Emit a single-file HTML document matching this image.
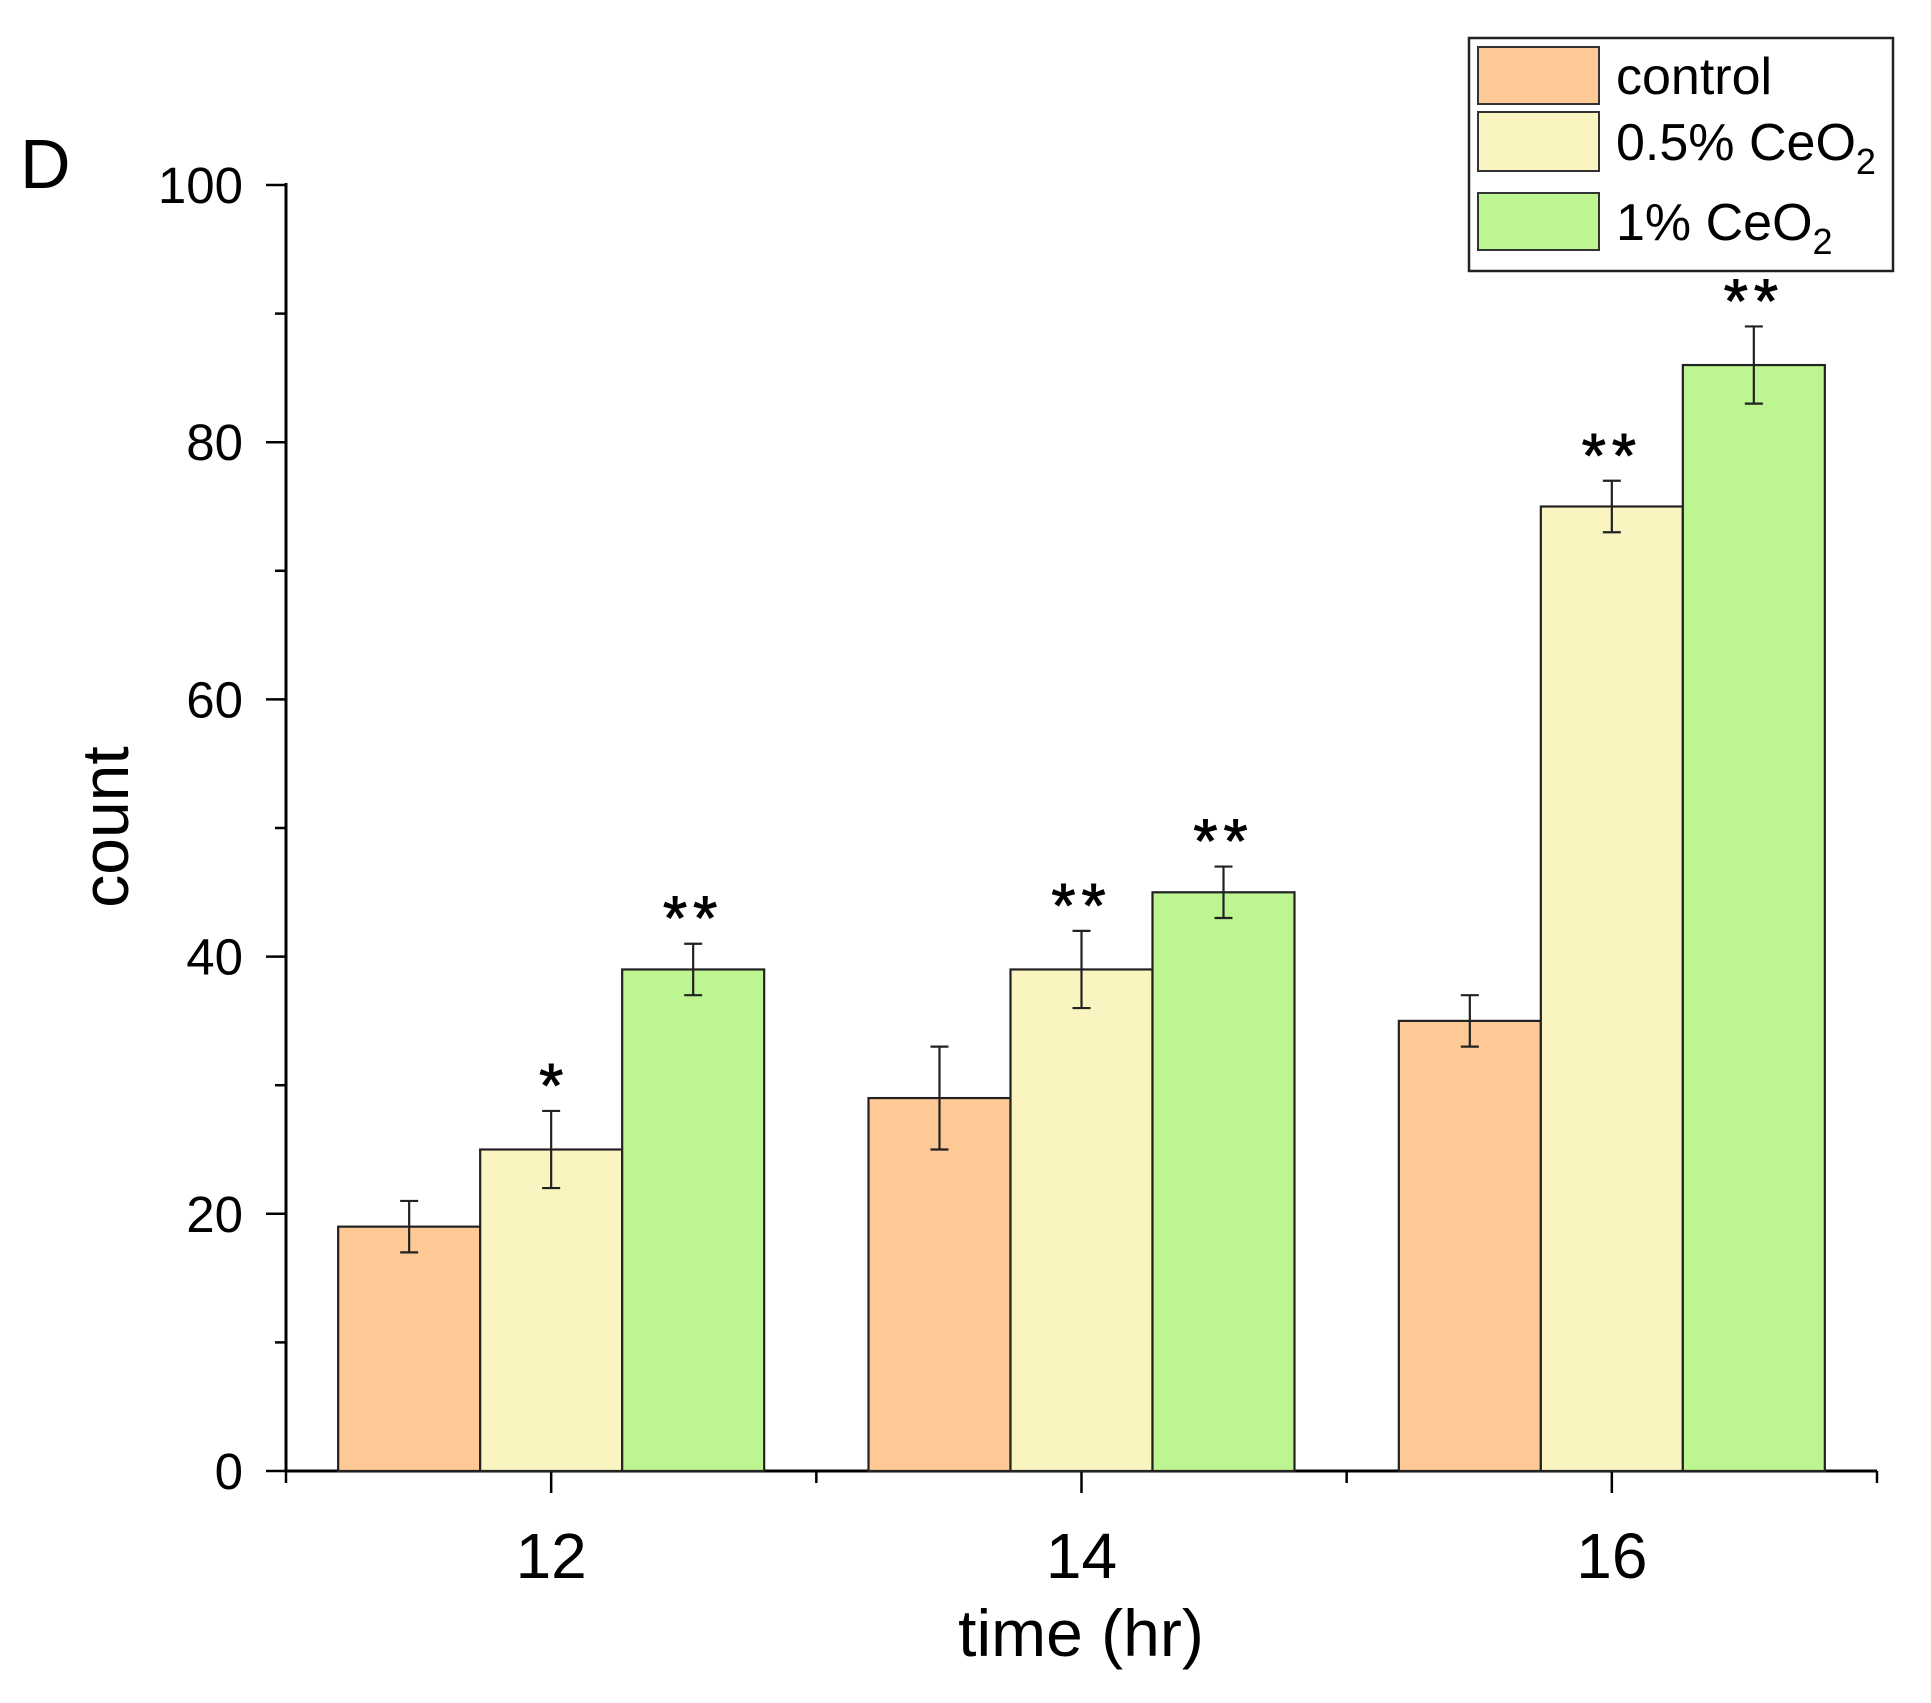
<!DOCTYPE html>
<html><head><meta charset="utf-8"><style>
html,body{margin:0;padding:0;background:#fff;}
svg{display:block;font-family:"Liberation Sans",Arial,sans-serif;}
</style></head><body>
<svg id="chart" width="1931" height="1703" viewBox="0 0 1931 1703" xmlns="http://www.w3.org/2000/svg">
<text x="20" y="188" font-size="70">D</text>
<g id="axes"></g>
<g id="bars"></g>
<text x="1081" y="1656" font-size="66" text-anchor="middle">time (hr)</text>
<text transform="translate(128,827) rotate(-90)" font-size="66" text-anchor="middle">count</text>
<g>
<rect x="1469" y="38" width="424" height="233" fill="#fff" stroke="#222" stroke-width="2.5"/>
<rect x="1478" y="47" width="121" height="57" fill="#fec994" stroke="#333" stroke-width="2"/>
<text x="1616" y="94" font-size="52">control</text>
<rect x="1478" y="112" width="121" height="59" fill="#faf5c0" stroke="#333" stroke-width="2"/>
<text x="1616" y="160" font-size="52">0.5% CeO<tspan font-size="36" dy="14">2</tspan></text>
<rect x="1478" y="193" width="121" height="57" fill="#bdf590" stroke="#333" stroke-width="2"/>
<text x="1616" y="240" font-size="52">1% CeO<tspan font-size="36" dy="14">2</tspan></text>
</g>
</svg>
<script>
const categories = ["12","14","16"];
const controlVals = [19, 29, 35];
const half05Vals = [25, 39, 75];
const one1Vals = [39, 45, 86];
const controlErr = [2, 4, 2];
const half05Err = [3, 3, 2];
const one1Err = [2, 2, 3];
const controlStars = ["", "", ""];
const half05Stars = ["*", "**", "**"];
const one1Stars = ["**", "**", "**"];
const yTicks = [0, 20, 40, 60, 80, 100];

const NS = "http://www.w3.org/2000/svg";
const x0 = 286, x1 = 1877, y0 = 1471, yTop = 185;
const yScale = v => y0 - (y0 - yTop) * v / 100;
const groupW = (x1 - x0) / categories.length;
const xCenter = i => x0 + groupW * (i + 0.5);
const barW = 142;
function mk(tag, attrs, parent){const e=document.createElementNS(NS,tag);for(const k in attrs)e.setAttribute(k,attrs[k]);parent.appendChild(e);return e;}
const axes = document.getElementById('axes');
const bars = document.getElementById('bars');
let a = mk('line',{x1:x0,y1:yTop-2,x2:x0,y2:y0+1,stroke:'#000','stroke-width':3},axes);


a = mk('line',{x1:x0-1,y1:y0,x2:x1,y2:y0,stroke:'#000','stroke-width':3},axes);


for (let v = 0; v <= 100; v += 10) {
  const major = v % 20 === 0;
  const t = mk('line',{x1:x0-(major?20:11),y1:yScale(v),x2:x0,y2:yScale(v),stroke:'#000','stroke-width':2.5},axes);
  
  
}
yTicks.forEach(v=>{
  const t = mk('text',{x:243,y:yScale(v)+18,'font-size':51,'text-anchor':'end'},axes);
  t.textContent = v;
  
  
});
for (let i = 0; i <= categories.length; i++) {
  const xb = x0 + groupW * i;
  const t = mk('line',{x1:xb,y1:y0,x2:xb,y2:y0+12,stroke:'#000','stroke-width':2.5},axes);
  
  
}
categories.forEach((c,i)=>{
  const t = mk('line',{x1:xCenter(i),y1:y0,x2:xCenter(i),y2:y0+22,stroke:'#000','stroke-width':2.5},axes);
  
  
  const l = mk('text',{x:xCenter(i),y:1578,'font-size':64,'text-anchor':'middle'},axes);
  l.textContent = c;
  
  
});
const series = [
  {name:'control', vals:controlVals, err:controlErr, stars:controlStars, color:'#fec994'},
  {name:'05-ceo2', vals:half05Vals, err:half05Err, stars:half05Stars, color:'#faf5c0'},
  {name:'1-ceo2', vals:one1Vals, err:one1Err, stars:one1Stars, color:'#bdf590'}
];
series.forEach((s,si)=>{
  s.vals.forEach((v,i)=>{
    const bx = xCenter(i) + (si - 1.5) * barW;
    const r = mk('rect',{x:bx,y:yScale(v),width:barW,height:y0-yScale(v),fill:s.color,stroke:'#222','stroke-width':2.2},bars);
    
    
    const cx = bx + barW/2, yh = yScale(v + s.err[i]), yl = yScale(v - s.err[i]);
    const g = mk('g',{stroke:'#222','stroke-width':2.2},bars);
    
    
    mk('line',{x1:cx,y1:yh,x2:cx,y2:yl},g);
    mk('line',{x1:cx-9,y1:yh,x2:cx+9,y2:yh},g);
    mk('line',{x1:cx-9,y1:yl,x2:cx+9,y2:yl},g);
    if (s.stars[i]) {
      const st = mk('text',{x:cx,y:yh-4,'font-size':62,'text-anchor':'middle','letter-spacing':s.stars[i].length>1?6:0,stroke:'#000','stroke-width':1},bars);
      st.textContent = s.stars[i];
      
      
    }
  });
});
</script>
</body></html>
